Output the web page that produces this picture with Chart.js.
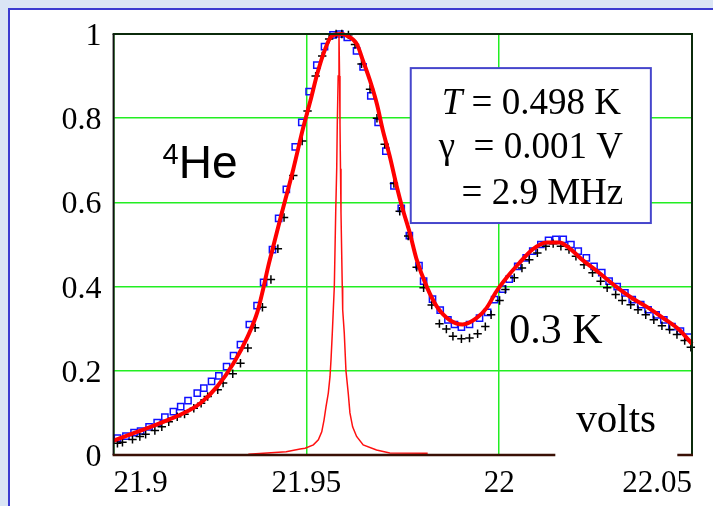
<!DOCTYPE html>
<html><head><meta charset="utf-8">
<script src="https://cdn.jsdelivr.net/npm/chart.js@4.4.1/dist/chart.umd.min.js"></script>
<style>
html,body{margin:0;padding:0;width:713px;height:506px;overflow:hidden;background:#dae5f5;}
#panel{position:absolute;left:8px;top:8px;width:705px;height:498px;background:#fff;border-left:2px solid #3b3bd0;border-top:2px solid #3b3bd0;box-sizing:border-box;}
#c{position:absolute;left:0;top:0;}
</style></head><body>
<div id="panel"></div>
<canvas id="c" width="713" height="506"></canvas>
<script>
const xTicks = [21.9, 21.95, 22, 22.05];
const yTicks = [0, 0.2, 0.4, 0.6, 0.8, 1];

// blue squares (0.498 K data)
const squareX = [21.9010,21.9032,21.9053,21.9070,21.9092,21.9113,21.9133,21.9155,21.9174,21.9193,21.9217,21.9234,21.9254,21.9273,21.9293,21.9311,21.9329,21.9352,21.9372,21.9389,21.9412,21.9428,21.9448,21.9471,21.9488,21.9507,21.9527,21.9547,21.9569,21.9587,21.9606,21.9630,21.9647,21.9667,21.9686,21.9706,21.9727,21.9746,21.9767,21.9792,21.9804,21.9827,21.9847,21.9867,21.9884,21.9902,21.9923,21.9949,21.9970,21.9988,22.0009,22.0026,22.0048,22.0070,22.0087,22.0108,22.0128,22.0147,22.0166,22.0186,22.0205,22.0226,22.0246,22.0266,22.0285,22.0306,22.0326,22.0345,22.0367,22.0386,22.0407,22.0427,22.0448,22.0470,22.0491];
const squareY = [0.040,0.045,0.053,0.057,0.067,0.077,0.090,0.103,0.115,0.129,0.147,0.159,0.175,0.188,0.210,0.236,0.262,0.310,0.355,0.410,0.488,0.562,0.631,0.732,0.790,0.863,0.926,0.970,0.998,1.000,0.992,0.960,0.922,0.853,0.790,0.722,0.639,0.586,0.521,0.450,0.413,0.370,0.344,0.321,0.310,0.304,0.310,0.325,0.339,0.369,0.394,0.418,0.448,0.468,0.484,0.500,0.510,0.512,0.512,0.500,0.484,0.468,0.448,0.433,0.413,0.400,0.385,0.369,0.357,0.345,0.333,0.321,0.305,0.294,0.280];

// black crosses (0.3 K data)
const plusX = [21.9010,21.9023,21.9049,21.9068,21.9083,21.9107,21.9125,21.9143,21.9165,21.9184,21.9208,21.9227,21.9244,21.9270,21.9284,21.9309,21.9329,21.9348,21.9367,21.9386,21.9408,21.9426,21.9442,21.9466,21.9489,21.9503,21.9524,21.9541,21.9559,21.9577,21.9592,21.9609,21.9626,21.9643,21.9665,21.9683,21.9703,21.9727,21.9742,21.9764,21.9786,21.9804,21.9825,21.9845,21.9863,21.9880,21.9902,21.9923,21.9944,21.9964,21.9979,22.0001,22.0016,22.0039,22.0059,22.0078,22.0099,22.0121,22.0140,22.0160,22.0181,22.0199,22.0220,22.0242,22.0263,22.0280,22.0302,22.0319,22.0341,22.0360,22.0380,22.0401,22.0422,22.0442,22.0461,22.0481,22.0497];
const plusY = [0.028,0.030,0.037,0.044,0.049,0.058,0.067,0.079,0.091,0.097,0.111,0.123,0.139,0.155,0.171,0.193,0.218,0.254,0.302,0.351,0.417,0.490,0.564,0.664,0.746,0.817,0.900,0.948,0.988,1.000,1.000,0.998,0.975,0.929,0.869,0.800,0.738,0.645,0.579,0.520,0.446,0.397,0.356,0.312,0.299,0.282,0.276,0.278,0.288,0.305,0.333,0.367,0.393,0.421,0.444,0.464,0.480,0.496,0.502,0.496,0.488,0.472,0.452,0.433,0.413,0.397,0.381,0.367,0.357,0.345,0.333,0.321,0.307,0.298,0.286,0.272,0.256];

// thick red fit
const fitX = [21.9000,21.9052,21.9096,21.9140,21.9181,21.9225,21.9269,21.9311,21.9347,21.9373,21.9388,21.9401,21.9414,21.9432,21.9466,21.9491,21.9510,21.9528,21.9543,21.9561,21.9574,21.9590,21.9605,21.9631,21.9647,21.9665,21.9683,21.9698,21.9716,21.9734,21.9750,21.9768,21.9786,21.9812,21.9838,21.9871,21.9905,21.9941,21.9967,21.9993,22.0019,22.0052,22.0086,22.0122,22.0156,22.0181,22.0215,22.0259,22.0303,22.0344,22.0388,22.0432,22.0466,22.0500];
const fitY = [0.034,0.052,0.067,0.083,0.099,0.123,0.163,0.218,0.280,0.340,0.395,0.448,0.495,0.560,0.679,0.775,0.840,0.905,0.950,0.990,0.999,1.000,0.996,0.976,0.936,0.889,0.833,0.772,0.710,0.639,0.583,0.528,0.464,0.400,0.353,0.321,0.310,0.325,0.349,0.389,0.421,0.456,0.488,0.505,0.505,0.492,0.464,0.433,0.400,0.373,0.349,0.321,0.298,0.264];

// thin red line (narrow Lorentzian, gamma = 0.001 V)
const lorX = [21.93494,21.94475,21.94837,21.94966,21.95181,21.95310,21.95398,21.95457,21.95509,21.95568,21.95612,21.95638,21.95672,21.95698,21.95724,21.95760,21.95786,21.95801,21.95824,21.95845,21.95860,21.95871,21.95884,21.95897,21.95930,21.95941,21.95982,21.96026,21.96085,21.96129,21.96199,21.96302,21.96473,21.96819,21.97163,21.98145];
const lorY = [0.002,0.008,0.014,0.016,0.024,0.036,0.055,0.083,0.115,0.147,0.186,0.226,0.290,0.345,0.400,0.576,0.680,0.786,0.900,1.000,0.900,0.786,0.680,0.576,0.400,0.345,0.290,0.200,0.147,0.100,0.067,0.044,0.024,0.012,0.005,0.004];

// annotations (anchor in data units)
const heLabel = {x: 21.9127, y: 0.692, sup: '4', text: 'He'};
const tempLabel = {x: 22.0026, y: 0.266, text: '0.3 K'};
const unitLabel = {x: 22.0200, y: 0.055, text: 'volts'};
const boxRect = {x0: 21.97706, x1: 22.03933, y0: 0.919, y1: 0.551};
const boxLines = [
  {x: 21.9851, y: 0.810, italic: 'T', text: ' = 0.498 K'},
  {x: 21.9843, y: 0.7055, italic: '', text: '\u03b3  = 0.001 V'},
  {x: 21.99023, y: 0.596, italic: '', text: '= 2.9 MHz'}
];

const pts = (xs, ys) => xs.map((v, i) => ({x: v, y: ys[i]}));
const SERIF = '"Liberation Serif", "Times New Roman", serif';

const annotPlugin = {
  id: 'annot',
  afterDatasetsDraw(chart) {
    const {ctx, chartArea: a, scales: {x, y}} = chart;
    const line = (x1, y1, x2, y2) => { ctx.beginPath(); ctx.moveTo(x1, y1); ctx.lineTo(x2, y2); ctx.stroke(); };
    ctx.save();
    // frame
    ctx.lineWidth = 2;
    ctx.strokeStyle = '#0b2a0b';
    line(a.left - 1, a.top, a.right + 1, a.top);
    line(a.right, a.top, a.right, a.bottom);
    ctx.strokeStyle = '#111111';
    line(a.left, a.top, a.left, a.bottom);
    ctx.strokeStyle = '#3a1005';
    ctx.lineWidth = 2.5;
    line(a.left - 1, a.bottom, a.right + 1, a.bottom);

    // 4He
    ctx.fillStyle = '#000';
    ctx.textBaseline = 'alphabetic';
    ctx.textAlign = 'left';
    ctx.font = '29px "Liberation Sans", Arial, sans-serif';
    const hx = x.getPixelForValue(heLabel.x), hy = y.getPixelForValue(heLabel.y);
    ctx.fillText(heLabel.sup, hx, hy);
    const sw = ctx.measureText(heLabel.sup).width;
    ctx.font = '46px "Liberation Sans", Arial, sans-serif';
    ctx.fillText(heLabel.text, hx + sw, hy + 14);

    // 0.3 K
    ctx.font = '42px ' + SERIF;
    ctx.fillText(tempLabel.text, x.getPixelForValue(tempLabel.x), y.getPixelForValue(tempLabel.y));

    // volts with white background
    const vx = x.getPixelForValue(unitLabel.x), vy = y.getPixelForValue(unitLabel.y);
    ctx.fillStyle = '#fff';
    ctx.fillRect(vx - 21, vy - 34, 122, a.bottom + 2 - (vy - 34));
    ctx.fillStyle = '#000';
    ctx.font = '41px ' + SERIF;
    ctx.fillText(unitLabel.text, vx, vy);

    // parameter box
    const bx0 = x.getPixelForValue(boxRect.x0), bx1 = x.getPixelForValue(boxRect.x1);
    const by0 = y.getPixelForValue(boxRect.y0), by1 = y.getPixelForValue(boxRect.y1);
    ctx.fillStyle = '#fff';
    ctx.fillRect(bx0, by0, bx1 - bx0, by1 - by0);
    ctx.strokeStyle = '#4646cc';
    ctx.lineWidth = 2;
    ctx.strokeRect(bx0, by0, bx1 - bx0, by1 - by0);
    ctx.fillStyle = '#000';
    boxLines.forEach(l => {
      let px = x.getPixelForValue(l.x);
      const py = y.getPixelForValue(l.y);
      if (l.italic) {
        ctx.font = 'italic 37px ' + SERIF;
        ctx.fillText(l.italic, px, py);
        px += ctx.measureText(l.italic).width;
      }
      ctx.font = '37px ' + SERIF;
      ctx.fillText(l.text, px, py);
    });
    ctx.restore();
  }
};

new Chart(document.getElementById('c'), {
  type: 'scatter',
  data: {
    datasets: [
      {label: 'fit', data: pts(fitX, fitY), showLine: true, borderColor: '#ff0000', borderWidth: 4,
       pointRadius: 0, cubicInterpolationMode: 'monotone', order: 0, clip: 3},
      {label: 'narrow', data: pts(lorX, lorY), showLine: true, borderColor: '#ff1010', borderWidth: 1.5,
       pointRadius: 0, tension: 0, order: 1, clip: 3},
      {label: '0.3 K', data: pts(plusX, plusY), showLine: false, pointStyle: 'cross', pointRadius: 4.2,
       pointBorderColor: '#000', pointBorderWidth: 1.5, order: 2, clip: 6},
      {label: '0.498 K', data: pts(squareX, squareY), showLine: false, pointStyle: 'rect', pointRadius: 4.4,
       pointBorderColor: '#1010ff', pointBackgroundColor: 'rgba(0,0,0,0)', pointBorderWidth: 1.5, order: 3, clip: 6}
    ]
  },
  options: {
    responsive: false,
    animation: false,
    devicePixelRatio: 1,
    layout: {padding: {left: 0, top: 34, right: 21, bottom: 0}},
    plugins: {legend: {display: false}, tooltip: {enabled: false}, title: {display: false}},
    scales: {
      x: {
        type: 'linear', min: 21.9, max: 22.05,
        afterBuildTicks: s => { s.ticks = xTicks.map(v => ({value: v})); },
        afterFit: s => { s.height = 51; },
        ticks: {align: 'inner', padding: 10, color: '#000', maxRotation: 0, autoSkip: false,
                font: {family: SERIF, size: 31}, callback: v => String(v)},
        grid: {color: '#22ee22', lineWidth: 1.5, drawTicks: false},
        border: {display: false}
      },
      y: {
        type: 'linear', min: 0, max: 1,
        afterBuildTicks: s => { s.ticks = yTicks.map(v => ({value: v})); },
        afterFit: s => { s.width = 113.6; },
        ticks: {padding: 12, labelOffset: 2.5, color: '#000', autoSkip: false,
                font: {family: SERIF, size: 32}, callback: v => String(v)},
        grid: {color: '#22ee22', lineWidth: 1.5, drawTicks: false},
        border: {display: false}
      }
    }
  },
  plugins: [annotPlugin]
});
</script>
</body></html>
